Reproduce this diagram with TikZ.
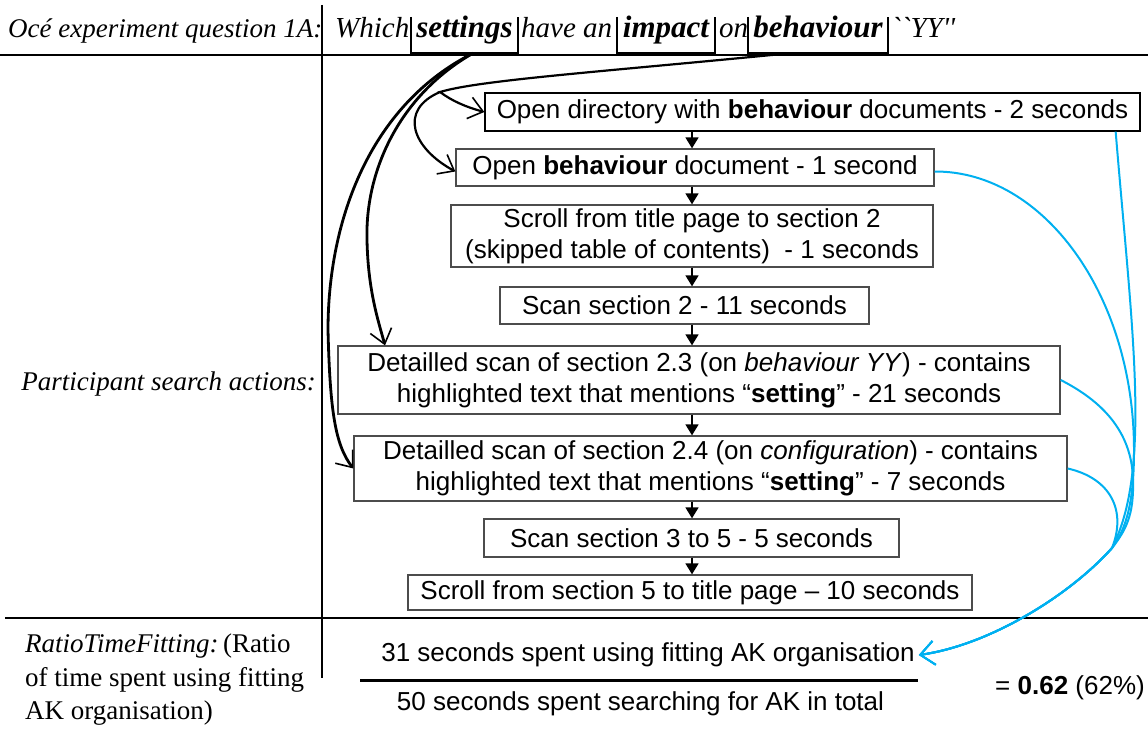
\documentclass[tikz,border=0pt]{standalone}
\usepackage{fontspec}
\setmainfont{Liberation Sans}
\newfontfamily\camfont{Liberation Serif}
\newfontfamily\camraw{Liberation Serif}[Ligatures=TeXOff]
\usetikzlibrary{arrows.meta,calc}
\definecolor{skyb}{HTML}{00B0F0}
\newcommand\boxfont{\fontsize{26}{31}\selectfont}
\newcommand\serfont{\camfont\fontsize{27}{33.5}\selectfont}
\newcommand\sermidfont{\camfont\fontsize{29}{33.5}\selectfont}
\newcommand\serbigfont{\camfont\fontsize{31}{33.5}\selectfont}
\newcommand\serrawfont{\camraw\fontsize{29}{33.5}\selectfont}
\begin{document}
\begin{tikzpicture}[x=1pt,y=-1pt,
  stepbox/.style={draw=black!70, line width=1.3pt, inner sep=0pt, font=\boxfont, align=center},
  word/.style={inner sep=0pt, font=\serfont\itshape, anchor=base west},
  qword/.style={inner sep=0pt, font=\sermidfont\itshape, anchor=base west},
  bword/.style={inner sep=0pt, font=\serbigfont\bfseries\itshape, text height=12pt, text depth=6pt, minimum height=36pt},
  brk/.style={line width=1.5pt, line join=miter},
  rule/.style={line width=1.5pt},
  flow/.style={line width=1.6pt, -{Triangle[length=11pt,width=13pt]}},
  blk/.style={line width=2.2pt, -{Straight Barb[length=14pt,width=22pt,line width=1.6pt]}},
  blkthick/.style={line width=2.8pt, -{Straight Barb[length=14pt,width=22pt,line width=1.6pt]}},
  blu/.style={draw=skyb, line width=2pt, -{Straight Barb[length=14pt,width=24pt,line width=1.8pt]}},
  plain/.style={inner sep=0pt, font=\boxfont}]
\useasboundingbox (0,0) rectangle (1148,733);

% grid lines
\coordinate (vtop) at (322,5);
\coordinate (vbot) at (322,678);
\draw[rule] (vtop) -- (vbot);
\draw[rule] (0,55) -- (1148,55);
\draw[rule] (5,618) -- (1148,618);

% header
\node[word] (head) at (8,38) {Océ experiment question 1A:};
\node[qword] (which) at (335,38) {Which};
\node[bword, minimum width=107pt] (settings) at (464.5,35) {settings};
\node[qword] (havean) at (521,38) {have an};
\node[bword, minimum width=98pt] (impact) at (666,35) {impact};
\node[qword] (on) at (719,38) {on};
\node[bword, minimum width=140pt] (behav) at (818,35) {behaviour};
\node[qword, font=\serrawfont\itshape] (yy) at (891,38) {``YY''};
\foreach \n in {settings,impact,behav}
  \draw[brk] (\n.north west) |- (\n.south east) -- (\n.north east);

% left labels
\node[word, anchor=base east] (psa) at (316,390) {Participant search actions:};
\node[inner sep=0pt, anchor=north west, align=left, font=\serfont] (ratio) at (25,634)
  {\textit{RatioTimeFitting:}\,(Ratio\\of time spent using fitting\\AK organisation)};

% flow boxes
\node[stepbox, draw=black, minimum width=655pt, minimum height=38pt] (b1) at (812.5,112)
  {Open directory with \textbf{behaviour} documents - 2 seconds};
\node[stepbox, minimum width=478pt, minimum height=37pt] (b2) at (695,167.5)
  {Open \textbf{behaviour} document - 1 second};
\node[stepbox, minimum width=482pt, minimum height=62pt] (b3) at (692,236)
  {Scroll from title page to section 2\\(skipped table of contents)\ \ - 1 seconds};
\node[stepbox, minimum width=369pt, minimum height=37pt] (b4) at (684.5,305.5)
  {Scan section 2 - 11 seconds};
\node[stepbox, minimum width=722pt, minimum height=68pt] (b5) at (699,380)
  {Detailled scan of section 2.3 (on \textit{behaviour YY}) - contains\\highlighted text that mentions “\textbf{setting}” - 21 seconds};
\node[stepbox, minimum width=713pt, minimum height=65pt] (b6) at (710.5,468.5)
  {Detailled scan of section 2.4 (on \textit{configuration}) - contains\\highlighted text that mentions “\textbf{setting}” - 7 seconds};
\node[stepbox, minimum width=415pt, minimum height=38pt] (b7) at (691.5,538)
  {Scan section 3 to 5 - 5 seconds};
\node[stepbox, minimum width=564pt, minimum height=35pt] (b8) at (690,592.5)
  {Scroll from section 5 to title page – 10 seconds};

\coordinate (ax) at (692,0);
\foreach \a/\b in {b1/b2,b2/b3,b3/b4,b4/b5,b5/b6,b6/b7,b7/b8}
  \draw[flow] (\a.south -| ax) -- (\b.north -| ax);

% fraction
\node[plain] (num) at (648,655) {31 seconds spent using fitting AK organisation};
\node[plain] (den) at (640.5,704) {50 seconds spent searching for AK in total};
\coordinate (fl) at (360,680);
\coordinate (fr) at (918,680);
\draw[line width=3pt] (fl) -- (fr);
\node[plain, anchor=east] (res) at (1145,688) {= \textbf{0.62} (62\%)};

% black connectors from the question
\coordinate (split) at (440,92);
\draw[blk] ([xshift=-28pt]behav.south) .. controls (600,72) and (480,80) .. (split)
  .. controls (452,101) and (466,107) .. (b1.west);
\draw[blk] (split) .. controls (398,110) and (412,148) .. ([yshift=-4pt]b2.west);
\draw[blkthick] ([xshift=8.5pt]settings.south) .. controls (370,105) and (328,220) .. (328,330)
  .. controls (330,410) and (335,445) .. (b6.west);
\draw[blkthick] ([xshift=8.5pt]settings.south) .. controls (400,95) and (365,170) .. (367,240)
  .. controls (368,290) and (378,320) .. (b5.north -| 385,0);

% blue connectors to the numerator
\coordinate (conv) at (1112,548);
\coordinate (tip) at ([xshift=4pt]num.east);
\draw[blu] ([xshift=-25pt]b1.south east) .. controls (1132,330) and (1152,470) .. (conv)
  .. controls (1070,595) and (990,645) .. (tip);
\draw[blu] ([yshift=-4pt]b2.east) .. controls (1044,171) and (1134,296) .. (1134,450)
  .. controls (1134,500) and (1127,528) .. (conv) .. controls (1070,595) and (990,645) .. (tip);
\draw[blu] (b5.east) .. controls (1100,400) and (1132,430) .. (1133,480)
  .. controls (1134,515) and (1126,530) .. (conv) .. controls (1070,595) and (990,645) .. (tip);
\draw[blu] (b6.east) .. controls (1110,478) and (1127,510) .. (conv)
  .. controls (1070,595) and (990,645) .. (tip);
\end{tikzpicture}
\end{document}
